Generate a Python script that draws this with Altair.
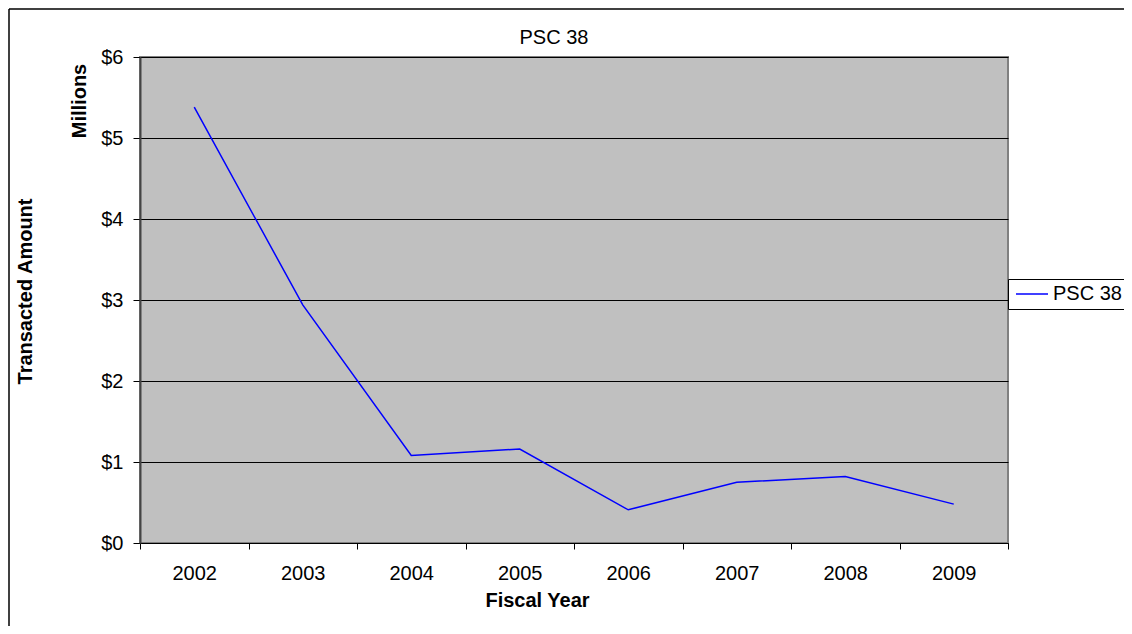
import altair as alt
import pandas as pd

years = ["2002", "2003", "2004", "2005", "2006", "2007", "2008", "2009"]
amounts = [5.38, 2.94, 1.08, 1.16, 0.41, 0.75, 0.82, 0.48]
series = ["PSC 38"] * len(years)
y_ticks = [0, 1, 2, 3, 4, 5, 6]
chart_title = "PSC 38"

df = pd.DataFrame({"year": years, "amount": amounts, "series": series})

FONT = "Liberation Sans"
W, H = 868, 486

line = alt.Chart(df).mark_line(color="#0000ff", strokeWidth=1.5).encode(
    x=alt.X("year:O", scale=alt.Scale(paddingInner=0, paddingOuter=0),
            axis=alt.Axis(title="Fiscal Year", labelAngle=0, tickBand="extent",
                          tickSize=6, labelPadding=14, labelFontSize=20,
                          labelFont=FONT, labelColor="#000",
                          titleFont=FONT, titleFontSize=20, titleFontWeight="bold",
                          titleX=397, titleY=63, titleBaseline="alphabetic",
                          titleAlign="center", domainColor="#000",
                          tickColor="#000", grid=False)),
    y=alt.Y("amount:Q", scale=alt.Scale(domain=[0, 6], nice=False),
            axis=alt.Axis(title="Transacted Amount", values=y_ticks,
                          format="$,.0f", tickSize=7, labelPadding=10,
                          labelFontSize=20, labelFont=FONT, labelColor="#000",
                          titleFont=FONT, titleFontSize=20, titleFontWeight="bold",
                          titleAngle=270, titleX=-115, titleY=234,
                          titleAlign="center", titleBaseline="middle",
                          domainColor="#444", domainWidth=2,
                          tickColor="#000", grid=True, gridColor="#000",
                          gridWidth=1, gridOpacity=1)),
    stroke=alt.Stroke("series:N", scale=alt.Scale(range=["#0000ff"]),
                      legend=alt.Legend(title=None, orient="none",
                                        legendX=W, legendY=222,
                                        symbolType="stroke", symbolSize=1024,
                                        symbolStrokeWidth=1.5, symbolOffset=2,
                                        labelOffset=4, labelFontSize=20,
                                        labelFont=FONT, labelColor="#000",
                                        clipHeight=20,
                                        padding=5, strokeColor="#000",
                                        fillColor="#fff")),
)

label_df = pd.DataFrame({"t": ["Millions"]})
millions = alt.Chart(label_df).mark_text(
    angle=270, align="center", baseline="middle", fontSize=20,
    fontWeight="bold", font=FONT, color="#000"
).encode(text="t:N", x=alt.value(-60), y=alt.value(44))

title_df = pd.DataFrame({"t": [chart_title]})
title_mark = alt.Chart(title_df).mark_text(
    align="center", baseline="alphabetic", fontSize=20, font=FONT, color="#000"
).encode(text="t:N", x=alt.value(414), y=alt.value(-13))

border_df = pd.DataFrame({"k": ["b"]})
top_rule = alt.Chart(border_df).mark_rule(color="#000", strokeWidth=1.5).encode(
    x=alt.value(-131), x2=alt.value(W + 130), y=alt.value(-48))
left_rule = alt.Chart(border_df).mark_rule(color="#000", strokeWidth=1.5).encode(
    x=alt.value(-131), y=alt.value(-48), y2=alt.value(H + 90))

chart = alt.layer(line, millions, title_mark, top_rule, left_rule).properties(
    width=W, height=H,
    autosize=alt.AutoSizeParams(type="none"),
    padding={"left": 132, "top": 49, "right": 116, "bottom": 83},
).configure(
    background="#ffffff"
).configure_view(
    fill="#c0c0c0", stroke="#808080", strokeWidth=2
)

chart.save("out.html", embed_options={"renderer": "svg", "actions": False})
